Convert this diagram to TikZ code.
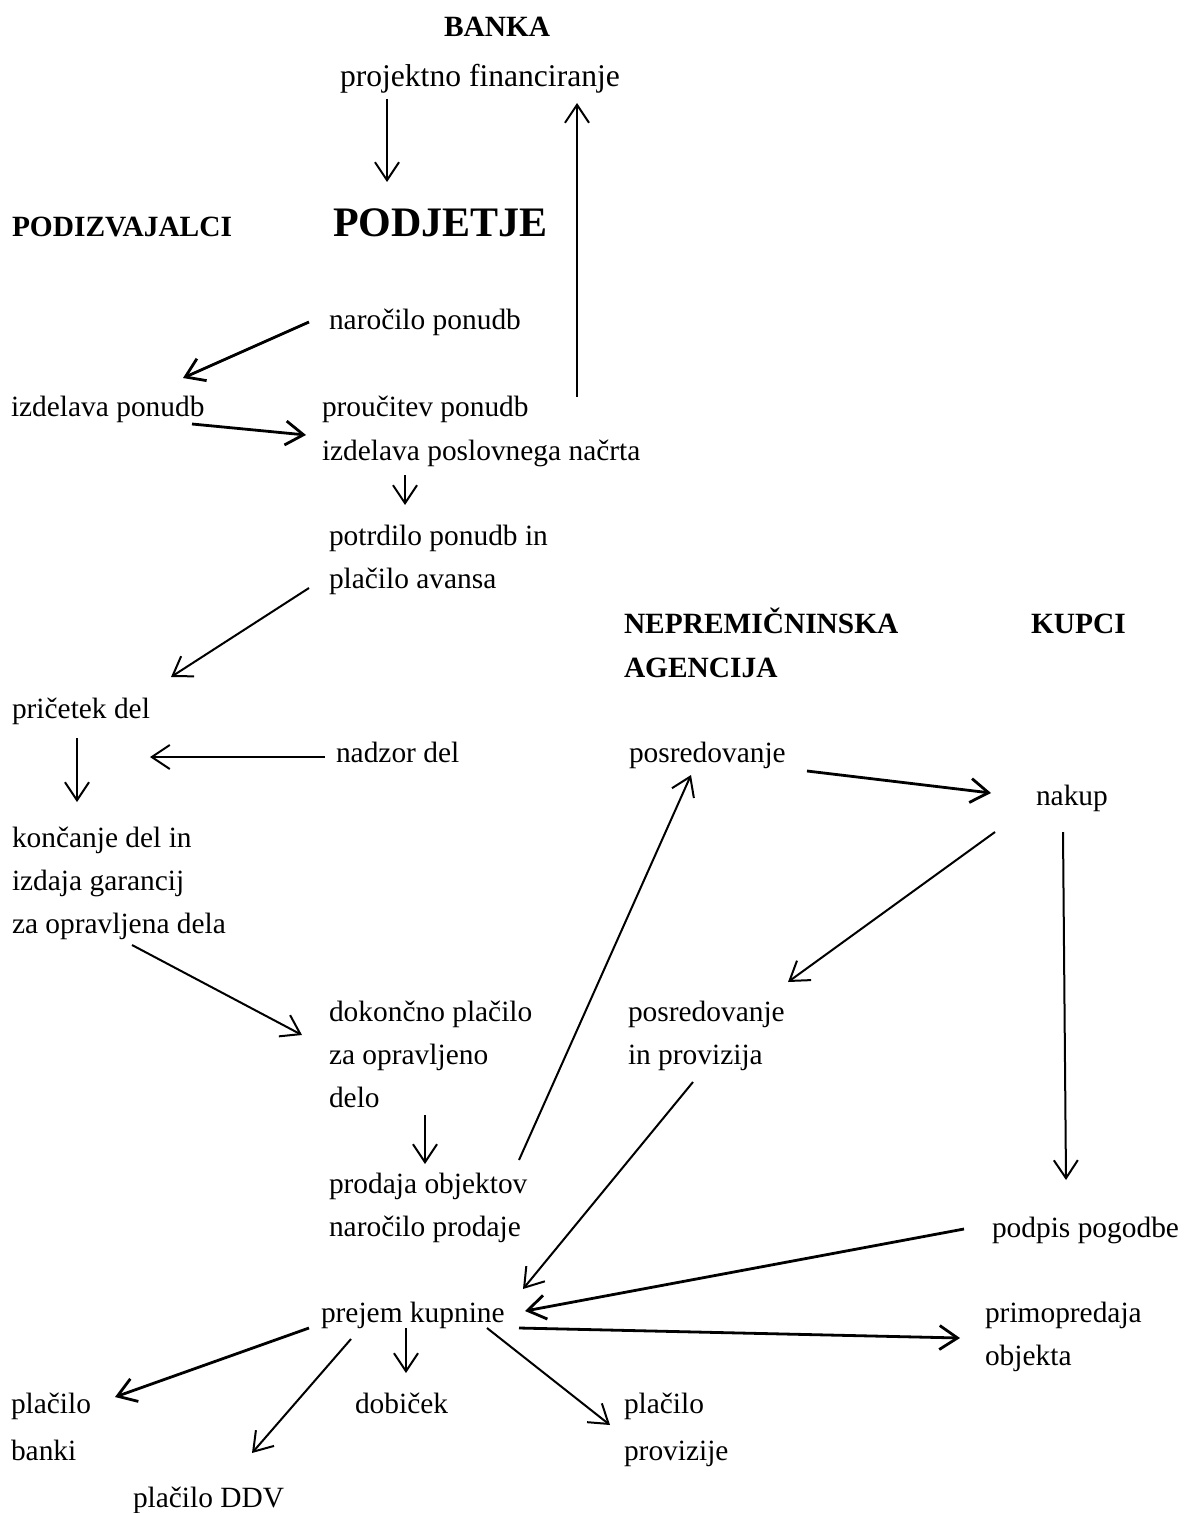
\documentclass[tikz,border=0pt]{standalone}
\usepackage{fontspec}
\setmainfont{Liberation Serif}
\usetikzlibrary{arrows.meta}
\newcommand{\mlines}[1]{\begin{tabular}[t]{@{}l@{}}#1\end{tabular}}
\begin{document}
\begin{tikzpicture}[x=0.5pt,y=-0.5pt,
  lbl/.style={inner sep=0pt, outer sep=0pt, anchor=base west, font=\fontsize{14.7}{21.5}\selectfont},
  wide/.style={lbl, font=\fontsize{14.7}{23.5}\selectfont},
  hdr/.style={lbl, font=\fontsize{14.7}{22}\selectfont\bfseries},
  big/.style={lbl, font=\fontsize{21}{25}\selectfont\bfseries},
  arr/.style={-{Straight Barb[length=9pt,width=12pt]}, line width=1pt},
  arrb/.style={arr, line width=1.4pt}]
\fill[white] (0,0) rectangle (1183,1513);
\useasboundingbox (0,0) rectangle (1183,1513);

% headings
\node[hdr] (banka) at (444,37) {BANKA};
\node[hdr] (podiz) at (12,237) {PODIZVAJALCI};
\node[big] (podj) at (333,237) {PODJETJE};
\node[hdr] (agencija) at (624,633) {\mlines{NEPREMIČNINSKA\\AGENCIJA}};
\node[hdr] (kupci) at (1031,633) {KUPCI};

% labels
\node[lbl, font=\fontsize{15.8}{21.5}\selectfont] (proj) at (340,87) {projektno financiranje};
\node[lbl] (narocilo) at (329,330) {naročilo ponudb};
\node[lbl] (izdpon) at (11,417) {izdelava ponudb};
\node[lbl] (proucitev) at (322,417) {\mlines{proučitev ponudb\\izdelava poslovnega načrta}};
\node[lbl] (potrdilo) at (329,545) {\mlines{potrdilo ponudb in\\plačilo avansa}};
\node[lbl] (pricetek) at (12,718) {pričetek del};
\node[lbl] (nadzor) at (336,762) {nadzor del};
\node[lbl] (posredA) at (629,762) {posredovanje};
\node[lbl] (nakup) at (1036,805) {nakup};
\node[lbl] (koncanje) at (12,847) {\mlines{končanje del in\\izdaja garancij\\za opravljena dela}};
\node[lbl] (dokoncno) at (329,1021) {\mlines{dokončno plačilo\\za opravljeno\\delo}};
\node[lbl] (posredB) at (628,1021) {\mlines{posredovanje\\in provizija}};
\node[lbl] (prodaja) at (329,1193) {\mlines{prodaja objektov\\naročilo prodaje}};
\node[lbl] (podpis) at (992,1237) {podpis pogodbe};
\node[lbl] (prejem) at (321,1322) {prejem kupnine};
\node[lbl] (primo) at (985,1322) {\mlines{primopredaja\\objekta}};
\node[wide] (banki) at (11,1413) {\mlines{plačilo\\banki}};
\node[lbl] (dobicek) at (355,1413) {dobiček};
\node[wide] (provizije) at (624,1413) {\mlines{plačilo\\provizije}};
\node[lbl] (ddv) at (133,1507) {plačilo DDV};

% connectors
\draw[arr] ([shift={(47,12)}]proj.base west) -- ([shift={(54,-55)}]podj.base west);
\draw[arr] ([shift={(255,-20)}]proucitev.base west) -- ([shift={(237,16)}]proj.base west);
\draw[arrb] ([shift={(-20,-8)}]narocilo.base west) -- ([shift={(172,-39)}]izdpon.base west);
\draw[arrb] ([shift={(181,7)}]izdpon.base west) -- ([shift={(-16,18)}]proucitev.base west);
\draw[arr] ([shift={(83,58)}]proucitev.base west) -- ([shift={(76,-40)}]potrdilo.base west);
\draw[arr] ([shift={(-20,43)}]potrdilo.base west) -- ([shift={(159,-41)}]pricetek.base west);
\draw[arr] ([shift={(65,20)}]pricetek.base west) -- ([shift={(65,-45)}]koncanje.base west);
\draw[arr] ([shift={(-11,-5)}]nadzor.base west) -- ([shift={(138,39)}]pricetek.base west);
\draw[arr] ([shift={(120,98)}]koncanje.base west) -- ([shift={(-27,14)}]dokoncno.base west);
\draw[arr] ([shift={(190,-33)}]prodaja.base west) -- ([shift={(62,13)}]posredA.base west);
\draw[arrb] ([shift={(178,9)}]posredA.base west) -- ([shift={(-45,-12)}]nakup.base west);
\draw[arr] ([shift={(-41,27)}]nakup.base west) -- ([shift={(160,-39)}]posredB.base west);
\draw[arr] ([shift={(27,27)}]nakup.base west) -- ([shift={(74,-57)}]podpis.base west);
\draw[arr] ([shift={(96,94)}]dokoncno.base west) -- ([shift={(96,-29)}]prodaja.base west);
\draw[arr] ([shift={(65,61)}]posredB.base west) -- ([shift={(202,-33)}]prejem.base west);
\draw[arrb] ([shift={(-28,-8)}]podpis.base west) -- ([shift={(204,-11)}]prejem.base west);
\draw[arrb] ([shift={(198,6)}]prejem.base west) -- ([shift={(-25,16)}]primo.base west);
\draw[arrb] ([shift={(-12,6)}]prejem.base west) -- ([shift={(104,-16)}]banki.base west);
\draw[arr] ([shift={(30,17)}]prejem.base west) -- ([shift={(119,-54)}]ddv.base west);
\draw[arr] ([shift={(85,6)}]prejem.base west) -- ([shift={(51,-40)}]dobicek.base west);
\draw[arr] ([shift={(166,6)}]prejem.base west) -- ([shift={(-14,12)}]provizije.base west);
\end{tikzpicture}
\end{document}
